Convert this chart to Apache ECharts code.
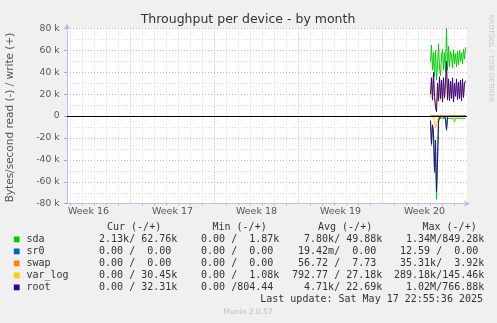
<!DOCTYPE html>
<html><head><meta charset="utf-8">
<script src="https://cdn.jsdelivr.net/npm/echarts@6/dist/echarts.min.js"></script>
<style>html,body{margin:0;padding:0;background:#F0F0F0;}#c{width:497px;height:323px;}</style>
</head><body><div id="c"></div>
<script>
// ---- axis labels ----
const weekLabels = ['Week 16', 'Week 17', 'Week 18', 'Week 19', 'Week 20'];
const weekMidDays = [3.5, 10.5, 17.5, 24.5, 31.5];      // label positions (days)
const weekStartDays = [7, 14, 21, 28];                   // red week lines (days)
const yTickValues = [-80000, -60000, -40000, -20000, 0, 20000, 40000, 60000, 80000];
const yTickLabels = ['-80 k', '-60 k', '-40 k', '-20 k', '0', '20 k', '40 k', '60 k', '80 k'];

// ---- devices ----
const devices = ['sda', 'sr0', 'swap', 'var_log', 'root'];
const deviceColors = ['#00CC00', '#0066B3', '#FF8000', '#FFCC00', '#330099'];

// ---- samples: 2-hour steps starting at day 32 (values in kB/s) ----
const firstSampleDay = 32;
const sampleStepDays = 2 / 24;
const sdaRead = [5, 27, 9, 16, 52, 33, 76, 43, 6, 2, 1.8, 2, 1.9, 2.1, 2, 2.5, 13.5, 2.2, 2, 1.9, 2, 2.1, 2, 1.9, 5.5, 2, 2.1, 2, 1.9, 2, 2.1, 2, 1.9, 2, 2.1, 2.13];
const sdaWrite = [50, 65, 42, 58, 36, 60, 33, 46, 66, 44, 37, 55, 61, 42, 58, 40, 80, 42, 64, 45, 59, 55, 44, 60, 48, 57, 45, 59, 47, 60, 50, 58, 48, 61, 52, 62.76];
const sr0Read = [0, 0, 0, 0, 0, 0, 0, 0, 0, 0, 0, 0, 0, 0, 0, 0, 0, 0, 0, 0, 0, 0, 0, 0, 0, 0, 0, 0, 0, 0, 0, 0, 0, 0, 0, 0];
const sr0Write = [0, 0, 0, 0, 0, 0, 0, 0, 0, 0, 0, 0, 0, 0, 0, 0, 0, 0, 0, 0, 0, 0, 0, 0, 0, 0, 0, 0, 0, 0, 0, 0, 0, 0, 0, 0];
const swapRead = [0, 0, 0, 0, 0, 0, 0.5, 0, 0, 0, 0, 0, 0, 0, 0, 0, 0, 0, 0, 0, 0, 0, 0, 0, 0, 0, 0, 0, 0, 0, 0, 0, 0, 0, 0, 0];
const swapWrite = [0, 0, 0, 0, 0, 0, 0.1, 0, 0, 0, 0, 0, 0, 0, 0, 0, 0, 0, 0, 0, 0, 0, 0, 0, 0, 0, 0, 0, 0, 0, 0, 0, 0, 0, 0, 0];
const varLogRead = [0.5, 2, 1, 1, 3, 11, 8, 4, 1, 0.2, 0.2, 0.2, 0.2, 0.2, 0.2, 0.3, 0.5, 0.2, 0.2, 0.2, 0.2, 0.2, 0.2, 0.2, 5, 0.3, 0.2, 0.2, 0.2, 0.2, 0.2, 0.2, 0.2, 0.2, 0.2, 0];
const varLogWrite = [17, 31, 14, 36, 16, 13, 5, 27, 13, 33, 15, 31, 12, 33, 16, 28, 44, 14, 31, 15, 30, 17, 32, 14, 29, 29, 31, 16, 29, 28, 31, 15, 30, 18, 29, 30.45];
const rootRead = [4, 25, 8, 15, 50, 22, 69, 40, 4, 1, 0.5, 0.3, 0.4, 0.3, 0.5, 1.5, 12, 0.5, 0.3, 0.2, 0.3, 0.2, 0.3, 0.2, 0.4, 0.2, 0.3, 0.2, 0.3, 0.2, 0.3, 0.2, 0.3, 0.2, 0.2, 0];
const rootWrite = [20, 35, 15, 40, 18, 8, 4, 30, 14, 36, 16, 33, 13, 35, 17, 30, 50, 15, 34, 14, 32, 16, 35, 13, 30, 18, 34, 15, 31, 16, 33, 14, 34, 17, 30, 32.31];

const readSeries = [sdaRead, sr0Read, swapRead, varLogRead, rootRead];
const writeSeries = [sdaWrite, sr0Write, swapWrite, varLogWrite, rootWrite];

// ---- legend table text ----
const colHeaders = ['Cur (-/+)', 'Min (-/+)', 'Avg (-/+)', 'Max (-/+)'];
const curVals = ['  2.13k/ 62.76k', '  0.00 /  0.00 ', '  0.00 /  0.00 ', '  0.00 / 30.45k', '  0.00 / 32.31k'];
const minVals = ['  0.00 /  1.87k', '  0.00 /  0.00 ', '  0.00 /  0.00 ', '  0.00 /  1.08k', '  0.00 /804.44 '];
const avgVals = ['  7.80k/ 49.88k', ' 19.42m/  0.00 ', ' 56.72 /  7.73 ', '792.77 / 27.18k', '  4.71k/ 22.69k'];
const maxVals = ['  1.34M/849.28k', ' 12.59 /  0.00 ', ' 35.31k/  3.92k', '289.18k/145.46k', '  1.02M/766.88k'];
const lastUpdate = 'Last update: Sat May 17 22:55:36 2025';
const titleText = 'Throughput per device - by month';
const yName = 'Bytes/second read (-) / write (+)';
const sideText = 'RRDTOOL / TOBI OETIKER';
const footer = 'Munin 2.0.57';

// ---- layout ----
const PX_LEFT = 67, PX_RIGHT = 467, PX_TOP = 28.5, PX_BOTTOM = 203.7;
const DAY0_PX = 46.5, PX_PER_DAY = 12;
const xMin = (PX_LEFT - DAY0_PX) / PX_PER_DAY;
const xMax = (PX_RIGHT - DAY0_PX) / PX_PER_DAY;
const dayLines = [];
for (let d = Math.ceil(xMin); d <= Math.floor(xMax); d++) if (d % 7 !== 0) dayLines.push(d);

const sans = '"DejaVu Sans", sans-serif';
const mono = '"DejaVu Sans Mono", monospace';
const gray = '#D4D4D4', red = '#EDA2A2', axisCol = '#BEBEF2';

function toPoints(arr, sign) {
  return arr.map((v, i) => [firstSampleDay + i * sampleStepDays, sign * v * 1000]);
}

const series = [];
devices.forEach((name, k) => {
  series.push({ name: name + '_read', type: 'line', data: toPoints(readSeries[k], -1),
    showSymbol: false, symbol: 'none', lineStyle: { width: 1, color: deviceColors[k] }, itemStyle: {color: deviceColors[k]}, z: 3 });
  series.push({ name: name + '_write', type: 'line', data: toPoints(writeSeries[k], 1),
    showSymbol: false, symbol: 'none', lineStyle: { width: 1, color: deviceColors[k] }, itemStyle: {color: deviceColors[k]}, z: 3 });
});
series[series.length - 1].markLine = {
  silent: true, symbol: ['none', 'none'], label: { show: false },
  lineStyle: { color: '#000', width: 1, type: 'solid' }, data: [{ yAxis: 0 }]
};

const graphic = [];
function txt(text, x, y, opts) {
  graphic.push(Object.assign({ type: 'text', x: x, y: y, silent: true,
    style: Object.assign({ text: text, fill: '#333', font: '10px ' + mono,
      textAlign: 'left', textVerticalAlign: 'middle', align: 'left', verticalAlign: 'middle' }, opts.style || {}) },
    opts.el || {}));
}
txt(titleText, 248, 19.5, { style: { font: '12.5px ' + sans, textAlign: 'center', align: 'center', fill: '#333' } });
txt(yName, 10.5, 117.5, { style: { font: '10.5px ' + sans, textAlign: 'center', align: 'center', fill: '#555' }, el: { rotation: Math.PI / 2 } });
txt(sideText, 490.5, 58.5, { style: { font: '6.8px ' + sans, textAlign: 'center', align: 'center', fill: '#C6C6C6' }, el: { rotation: -Math.PI / 2 } });

const headerX = [107, 212.5, 318, 422.5];
colHeaders.forEach((h, i) => txt(h, headerX[i], 227.7, {}));
const rowY0 = 239.3, rowDY = 12;
const colX = [87, 189, 292, 394];
devices.forEach((name, k) => {
  const y = rowY0 + k * rowDY;
  graphic.push({ type: 'rect', silent: true, shape: { x: 13.8, y: y - 2.8, width: 5.8, height: 5.8 }, style: { fill: deviceColors[k] } });
  txt(name, 26.5, y, {});
  [curVals, minVals, avgVals, maxVals].forEach((col, c) => txt(col[k], colX[c], y, {}));
});
txt(lastUpdate, 483, 299.3, { style: { textAlign: 'right', align: 'right' } });
txt(footer, 248, 312.3, { style: { font: '7.5px ' + sans, textAlign: 'center', align: 'center', fill: '#BDBDBD' } });

const chart = echarts.init(document.getElementById('c'), null, { renderer: 'canvas' });
chart.setOption({
  backgroundColor: '#F0F0F0',
  animation: false,
  grid: { left: PX_LEFT, right: 497 - PX_RIGHT, top: PX_TOP, bottom: 323 - PX_BOTTOM,
    show: true, backgroundColor: '#FFFFFF', borderWidth: 0, containLabel: false, outerBoundsMode: 'none' },
  xAxis: [{
    type: 'value', position: 'bottom', min: xMin, max: xMax,
    axisLine: { show: true, onZero: false, lineStyle: { color: axisCol, width: 1 },
      symbol: ['none', 'arrow'], symbolSize: [5, 6], symbolOffset: [0, 3] },
    axisTick: { show: true, customValues: dayLines, length: 2, lineStyle: { color: '#BBBBBB' } },
    splitLine: { show: true, lineStyle: { color: gray, width: 1, type: [1, 2] } },
    axisLabel: { show: true, customValues: weekMidDays, margin: 3,
      formatter: v => weekLabels[weekMidDays.indexOf(v)] || '',
      color: '#555', fontSize: 9.5, fontFamily: sans, showMinLabel: true, showMaxLabel: true }
  }, {
    type: 'value', position: 'top', min: xMin, max: xMax,
    axisLine: { show: false }, axisLabel: { show: false },
    axisTick: { show: false, customValues: weekStartDays },
    splitLine: { show: true, lineStyle: { color: red, width: 1, type: [1, 2] } }
  }],
  yAxis: [{
    type: 'value', min: -80000, max: 80000, interval: 20000,
    axisLine: { show: true, onZero: false, lineStyle: { color: axisCol, width: 1 },
      symbol: ['none', 'arrow'], symbolSize: [5, 6], symbolOffset: [0, 5] },
    axisTick: { show: true, length: 3, lineStyle: { color: '#AAAAAA' } },
    axisLabel: { margin: 7.5, color: '#555', fontSize: 9.2, fontFamily: sans,
      formatter: v => yTickLabels[yTickValues.indexOf(v)] },
    splitLine: { show: true, lineStyle: { color: red, width: 1, type: [1, 2] } },
    minorTick: { show: false, splitNumber: 2 },
    minorSplitLine: { show: true, lineStyle: { color: gray, width: 1, type: [1, 2] } }
  }],
  graphic: graphic,
  series: series
});
</script></body></html>
